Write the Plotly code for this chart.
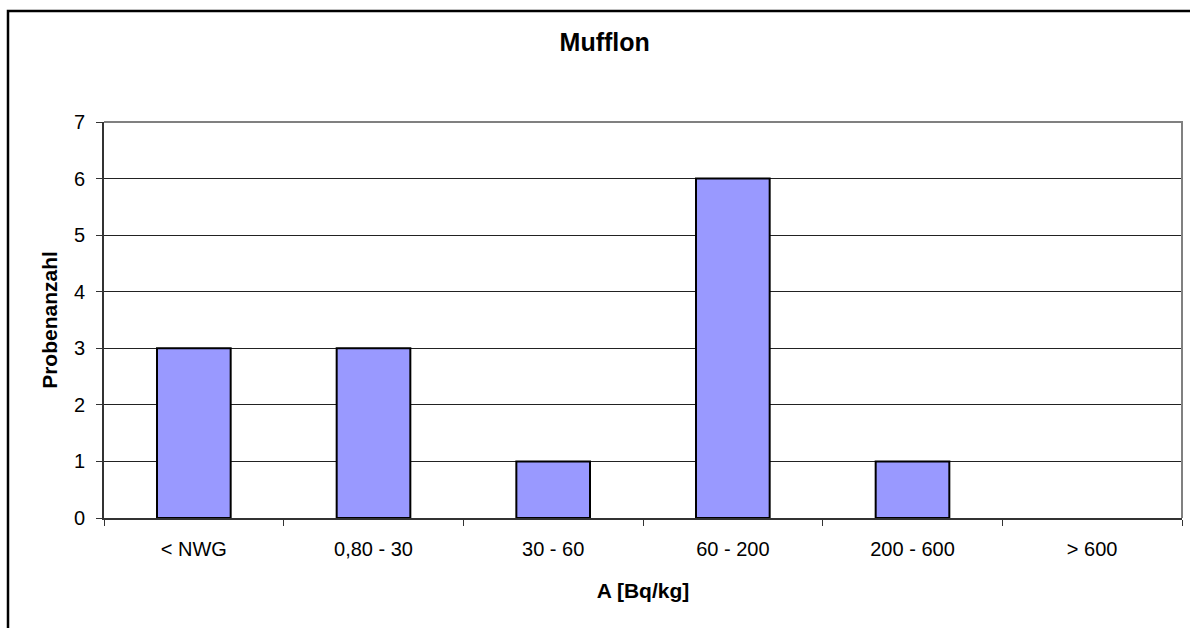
import plotly.graph_objects as go

# Activity classes and number of samples per class
classes = ["< NWG", "0,80 - 30", "30 - 60", "60 - 200", "200 - 600", "> 600"]
counts = [3, 3, 1, 6, 1, 0]
y_ticks = [0, 1, 2, 3, 4, 5, 6, 7]

W, H = 1190, 628
L, R, T, B = 104, 8, 121.5, 110
pw, ph = W - L - R, H - T - B

FONT = "Liberation Sans, Arial, sans-serif"

# empty classes get no outline so no stray line sits on the axis
outline_widths = [2 if c > 0 else 0 for c in counts]

fig = go.Figure(
    go.Bar(
        x=classes,
        y=counts,
        marker=dict(color="#9999FF", line=dict(color="#000000", width=outline_widths)),
        hoverinfo="x+y",
    )
)

fig.update_layout(
    width=W,
    height=H,
    margin=dict(l=L, r=R, t=T, b=B, pad=0),
    paper_bgcolor="white",
    plot_bgcolor="white",
    bargap=0.59,
    showlegend=False,
    font=dict(family=FONT, size=20, color="#000000"),
    title=dict(
        text="<b>Mufflon</b>",
        font=dict(family=FONT, size=25, color="#000000"),
        x=604.7 / W,
        xref="container",
        xanchor="center",
        y=1 - 42 / H,
        yref="container",
        yanchor="middle",
    ),
    xaxis=dict(
        type="category",
        tickson="boundaries",
        ticks="outside",
        ticklen=6,
        tickwidth=1,
        tickcolor="#333333",
        ticklabelstandoff=12,
        showline=True,
        linecolor="#333333",
        linewidth=2,
        showgrid=False,
        tickfont=dict(family=FONT, size=20),
        title=dict(text="<b>A [Bq/kg]</b>", font=dict(family=FONT, size=21), standoff=24),
        fixedrange=True,
    ),
    yaxis=dict(
        range=[0, 7],
        tickvals=y_ticks,
        ticks="outside",
        ticklen=6,
        tickwidth=1,
        tickcolor="#333333",
        ticklabelstandoff=7,
        showline=True,
        linecolor="#333333",
        linewidth=2,
        showgrid=True,
        gridcolor="#222222",
        gridwidth=1,
        zeroline=False,
        tickfont=dict(family=FONT, size=20),
        title=dict(text="<b>Probenanzahl</b>", font=dict(family=FONT, size=21), standoff=11),
        fixedrange=True,
    ),
    shapes=[
        # grey frame on the top and right of the plotting area
        dict(
            type="path",
            xref="paper",
            yref="paper",
            path="M 0,1 L 1,1 L 1,0",
            line=dict(color="#808080", width=2),
            layer="above",
        ),
        # black outer chart border
        dict(
            type="rect",
            xref="paper",
            yref="paper",
            x0=(8 - L) / pw,
            x1=(W + 20 - L) / pw,
            y0=-(H + 20 - (T + ph)) / ph,
            y1=1 + (T - 10.3) / ph,
            line=dict(color="#000000", width=2.5),
            fillcolor="rgba(0,0,0,0)",
            layer="above",
        ),
    ],
)

fig.write_html("out.html")
